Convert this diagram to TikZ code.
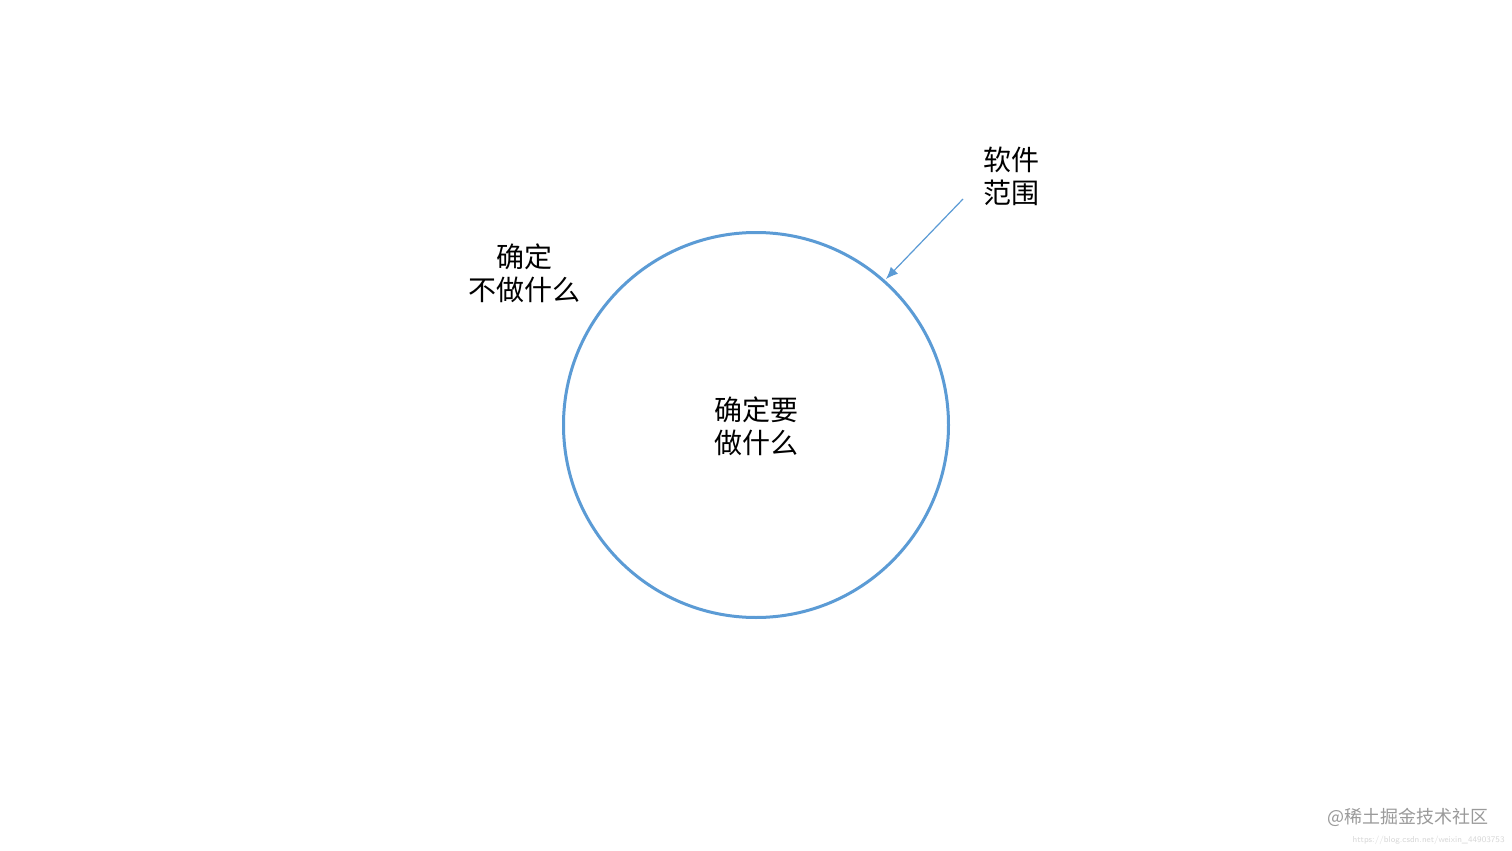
\documentclass[tikz,border=0pt]{standalone}
\usepackage{fontspec}
\newfontfamily\cjk{Noto Sans CJK SC}
\usetikzlibrary{arrows.meta}
\definecolor{cblue}{HTML}{5B9BD5}
\definecolor{wm}{HTML}{9A9A9A}
\definecolor{wm2}{HTML}{D8D8D8}
\tikzset{
  lbl/.style={font=\cjk\fontsize{14}{16.5}\selectfont, align=center, inner sep=0pt},
  lblleft/.style={font=\cjk\fontsize{14}{16.5}\selectfont, align=left, inner sep=0pt},
  ring/.style={draw=cblue, line width=1.5pt},
  ptr/.style={draw=cblue, line width=0.6pt, -{Latex[length=6pt,width=5pt]}},
}
\begin{document}
\begin{tikzpicture}[x=0.5pt,y=-0.5pt]
\useasboundingbox[fill=white] (0,0) rectangle (1512,851);
\node[ring, circle, minimum size=385*0.5pt, inner sep=0pt] (c) at (756,425) {};
\node[lblleft] (inner) at (756,426) {确定要\\做什么};
\node[lbl] (outer) at (524,273) {确定\\不做什么};
\node[lblleft] (sw) at (1011,176) {软件\\范围};
\coordinate (s) at (963,199);
\coordinate (e) at (886,279);
\draw[ptr] (s) -- (e);
\node[font=\cjk\fontsize{9}{10}\selectfont, text=wm, anchor=east, inner sep=0pt] (wm1) at (1489,817) {@稀土掘金技术社区};
\node[font=\sffamily\fontsize{4.3}{5}\selectfont, text=wm2, anchor=east, inner sep=0pt] (wm2) at (1505,840) {https://blog.csdn.net/weixin\_44903753};
\end{tikzpicture}
\end{document}
